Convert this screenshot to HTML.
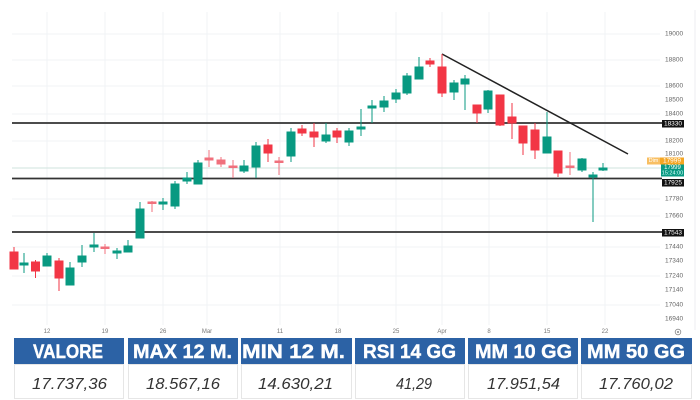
<!DOCTYPE html>
<html><head><meta charset="utf-8"><style>
html,body{margin:0;padding:0;background:#fff;}
svg{display:block;}
text{font-family:"Liberation Sans",Arial,sans-serif;}
</style></head><body>
<svg width="700" height="400" viewBox="0 0 700 400" xmlns="http://www.w3.org/2000/svg">
<rect width="700" height="400" fill="#fff"/>
<!-- grid -->
<g stroke="#f1f3f6" stroke-width="1">
<line x1="47" y1="12" x2="47" y2="325"/><line x1="105" y1="12" x2="105" y2="325"/>
<line x1="163" y1="12" x2="163" y2="325"/><line x1="207" y1="12" x2="207" y2="325"/>
<line x1="280" y1="12" x2="280" y2="325"/><line x1="338" y1="12" x2="338" y2="325"/>
<line x1="396" y1="12" x2="396" y2="325"/><line x1="442" y1="12" x2="442" y2="325"/>
<line x1="489" y1="12" x2="489" y2="325"/><line x1="547" y1="12" x2="547" y2="325"/>
<line x1="605" y1="12" x2="605" y2="325"/>
<line x1="12" y1="34" x2="660" y2="34"/><line x1="12" y1="60" x2="660" y2="60"/>
<line x1="12" y1="86" x2="660" y2="86"/><line x1="12" y1="114" x2="660" y2="114"/>
<line x1="12" y1="141" x2="660" y2="141"/><line x1="12" y1="199" x2="660" y2="199"/>
<line x1="12" y1="216" x2="660" y2="216"/><line x1="12" y1="247" x2="660" y2="247"/>
<line x1="12" y1="276" x2="660" y2="276"/><line x1="12" y1="305" x2="660" y2="305"/>
</g>
<line x1="695" y1="10" x2="695" y2="330" stroke="#eceef2" stroke-width="1"/>
<!-- price line -->
<line x1="12" y1="168" x2="661" y2="168" stroke="#cfe3dd" stroke-width="1"/>
<!-- support/resistance -->
<g stroke="#333" stroke-width="1.8">
<line x1="12" y1="123" x2="662" y2="123"/>
<line x1="12" y1="178.5" x2="662" y2="178.5"/>
<line x1="12" y1="232" x2="662" y2="232"/>
</g>
<line x1="442" y1="54" x2="628" y2="154" stroke="#222" stroke-width="1.5"/>
<!-- candles -->
<g stroke-width="1">
<g fill="#f23645" stroke="#f23645">
<line x1="14" y1="247" x2="14" y2="269"/><rect x="10" y="252" width="8" height="17"/>
<line x1="35.5" y1="260" x2="35.5" y2="278"/><rect x="31.5" y="262" width="8" height="9"/>
<line x1="59" y1="258" x2="59" y2="291"/><rect x="55" y="261" width="8" height="17"/>
<line x1="268" y1="139" x2="268" y2="162"/><rect x="264" y="145" width="8" height="8"/>
<line x1="302" y1="125" x2="302" y2="136"/><rect x="298" y="129" width="8" height="4"/>
<line x1="314" y1="123" x2="314" y2="147"/><rect x="310" y="132" width="8" height="5"/>
<line x1="337" y1="128" x2="337" y2="143"/><rect x="333" y="131" width="8" height="6"/>
<line x1="430" y1="58" x2="430" y2="67"/><rect x="426" y="61" width="8" height="3"/>
<line x1="442" y1="54" x2="442" y2="97"/><rect x="438" y="67" width="8" height="26"/>
<line x1="477" y1="105" x2="477" y2="123"/><rect x="473" y="105" width="8" height="8"/>
<line x1="500" y1="95" x2="500" y2="126"/><rect x="496" y="95" width="8" height="30"/>
<line x1="512" y1="103" x2="512" y2="139"/><rect x="508" y="117" width="8" height="6"/>
<line x1="523" y1="126" x2="523" y2="155"/><rect x="519" y="126" width="8" height="17"/>
<line x1="535" y1="123" x2="535" y2="159"/><rect x="531" y="130" width="8" height="20"/>
<line x1="558" y1="151" x2="558" y2="177"/><rect x="554" y="151" width="8" height="22"/>
</g>
<g fill="#f0707c" stroke="#f0707c">
<line x1="105" y1="244" x2="105" y2="254"/><rect x="101" y="247" width="8" height="1.5"/>
<line x1="152" y1="201" x2="152" y2="212"/><rect x="148" y="202" width="8" height="1.5"/>
<line x1="209" y1="150" x2="209" y2="167"/><rect x="205" y="158" width="8" height="2"/>
<line x1="221" y1="157" x2="221" y2="167"/><rect x="217" y="160" width="8" height="4"/>
<line x1="233" y1="160" x2="233" y2="178"/><rect x="229" y="166" width="8" height="1.5"/>
<line x1="279" y1="157" x2="279" y2="175"/><rect x="275" y="161" width="8" height="1.5"/>
<line x1="570" y1="152" x2="570" y2="175"/><rect x="566" y="166" width="8" height="1.5"/>
</g>
<g fill="#089981" stroke="#089981">
<line x1="24" y1="253" x2="24" y2="273"/><rect x="20" y="263" width="8" height="2"/>
<line x1="47" y1="253" x2="47" y2="266"/><rect x="43" y="256" width="8" height="10"/>
<line x1="70" y1="262" x2="70" y2="285"/><rect x="66" y="268" width="8" height="17"/>
<line x1="82" y1="245" x2="82" y2="267"/><rect x="78" y="256" width="8" height="6"/>
<line x1="94" y1="233" x2="94" y2="252"/><rect x="90" y="245" width="8" height="2"/>
<line x1="117" y1="248" x2="117" y2="259"/><rect x="113" y="251" width="8" height="2"/>
<line x1="128" y1="240" x2="128" y2="252"/><rect x="124" y="246" width="8" height="6"/>
<line x1="140" y1="202" x2="140" y2="238"/><rect x="136" y="209" width="8" height="29"/>
<line x1="163" y1="198" x2="163" y2="210"/><rect x="159" y="202" width="8" height="2"/>
<line x1="175" y1="181" x2="175" y2="209"/><rect x="171" y="184" width="8" height="22"/>
<line x1="187" y1="172" x2="187" y2="184"/><rect x="183" y="178" width="8" height="3"/>
<line x1="198" y1="160" x2="198" y2="184"/><rect x="194" y="163" width="8" height="21"/>
<line x1="244" y1="160" x2="244" y2="173"/><rect x="240" y="166" width="8" height="5"/>
<line x1="256" y1="142" x2="256" y2="178"/><rect x="252" y="146" width="8" height="21"/>
<line x1="291" y1="128" x2="291" y2="162"/><rect x="287" y="132" width="8" height="24"/>
<line x1="326" y1="123" x2="326" y2="143"/><rect x="322" y="135" width="8" height="6"/>
<line x1="349" y1="128" x2="349" y2="146"/><rect x="345" y="131" width="8" height="11"/>
<line x1="361" y1="109" x2="361" y2="136"/><rect x="357" y="127" width="8" height="2"/>
<line x1="372" y1="100" x2="372" y2="123"/><rect x="368" y="106" width="8" height="2"/>
<line x1="384" y1="96" x2="384" y2="112"/><rect x="380" y="101" width="8" height="6"/>
<line x1="396" y1="89" x2="396" y2="103"/><rect x="392" y="93" width="8" height="6"/>
<line x1="407" y1="73" x2="407" y2="95"/><rect x="403" y="76" width="8" height="17"/>
<line x1="419" y1="57" x2="419" y2="79"/><rect x="415" y="67" width="8" height="12"/>
<line x1="454" y1="80" x2="454" y2="100"/><rect x="450" y="83" width="8" height="9"/>
<line x1="465" y1="75" x2="465" y2="110"/><rect x="461" y="79" width="8" height="5"/>
<line x1="488" y1="90" x2="488" y2="113"/><rect x="484" y="91" width="8" height="18"/>
<line x1="547" y1="112" x2="547" y2="153"/><rect x="543" y="137" width="8" height="16"/>
<line x1="582" y1="158" x2="582" y2="172"/><rect x="578" y="159" width="8" height="11"/>
<line x1="593" y1="172" x2="593" y2="222"/><rect x="589" y="175" width="8" height="2"/>
<line x1="603" y1="163" x2="603" y2="171"/><rect x="599" y="168" width="8" height="2"/>
</g>
</g>
<!-- right axis labels -->
<g font-size="6.5" fill="#666" dominant-baseline="central">
<text x="665" y="34">19000</text><text x="665" y="60">18800</text>
<text x="665" y="86">18600</text><text x="665" y="100">18500</text>
<text x="665" y="114">18400</text><text x="665" y="141">18200</text>
<text x="665" y="154">18100</text><text x="665" y="199">17780</text>
<text x="665" y="216">17660</text><text x="665" y="247">17440</text>
<text x="665" y="261">17340</text><text x="665" y="276">17240</text>
<text x="665" y="290">17140</text><text x="665" y="305">17040</text>
<text x="665" y="319">16940</text>
</g>
<!-- price tags -->
<rect x="662" y="120" width="22" height="7.5" fill="#111"/>
<text x="673" y="124" font-size="6.5" fill="#fff" text-anchor="middle" dominant-baseline="central">18330</text>
<rect x="647" y="157.5" width="37" height="7" fill="#f5a623"/>
<rect x="647" y="157.5" width="13" height="7" fill="#f8bf62"/>
<text x="653.5" y="161" font-size="5.5" fill="#fff" text-anchor="middle" dominant-baseline="central">Dim</text>
<text x="672" y="161" font-size="6.5" fill="#fff" text-anchor="middle" dominant-baseline="central">17999</text>
<rect x="661" y="164.5" width="23" height="12" fill="#089981"/>
<text x="672.5" y="168" font-size="6" fill="#fff" text-anchor="middle" dominant-baseline="central">17999</text>
<text x="672.5" y="173.5" font-size="5.5" fill="#dff" text-anchor="middle" dominant-baseline="central">15:24:00</text>
<rect x="662" y="179" width="22" height="7.5" fill="#111"/>
<text x="673" y="183" font-size="6.5" fill="#fff" text-anchor="middle" dominant-baseline="central">17925</text>
<rect x="662" y="229" width="22" height="7.5" fill="#111"/>
<text x="673" y="233" font-size="6.5" fill="#fff" text-anchor="middle" dominant-baseline="central">17543</text>
<!-- date labels -->
<g font-size="6" fill="#777" text-anchor="middle" dominant-baseline="central">
<text x="47" y="332">12</text><text x="105" y="332">19</text><text x="163" y="332">26</text>
<text x="207" y="332">Mar</text><text x="280" y="332">11</text><text x="338" y="332">18</text>
<text x="396" y="332">25</text><text x="442" y="332">Apr</text><text x="489" y="332">8</text>
<text x="547" y="332">15</text><text x="605" y="332">22</text>
</g>
<circle cx="678" cy="332" r="2.8" fill="none" stroke="#888" stroke-width="0.8"/>
<circle cx="678" cy="332" r="1" fill="#888"/>
<!-- table -->
<g fill="#2c62a5">
<rect x="14" y="338" width="110" height="26"/>
<rect x="128" y="338" width="110" height="26"/>
<rect x="241" y="338" width="111" height="26"/>
<rect x="355" y="338" width="110" height="26"/>
<rect x="468" y="338" width="110" height="26"/>
<rect x="581" y="338" width="111" height="26"/>
</g>
<g fill="#fff" stroke="#e6e6e6" stroke-width="1">
<rect x="14.5" y="364.5" width="109" height="34"/>
<rect x="128.5" y="364.5" width="109" height="34"/>
<rect x="241.5" y="364.5" width="110" height="34"/>
<rect x="355.5" y="364.5" width="109" height="34"/>
<rect x="468.5" y="364.5" width="109" height="34"/>
<rect x="581.5" y="364.5" width="110" height="34"/>
</g>
<g font-size="19" font-weight="bold" fill="#fff" stroke="#fff" stroke-width="0.4">
<text x="33" y="358" textLength="70" lengthAdjust="spacingAndGlyphs">VALORE</text>
<text x="133" y="358" textLength="99" lengthAdjust="spacingAndGlyphs">MAX 12 M.</text>
<text x="242" y="358" textLength="103" lengthAdjust="spacingAndGlyphs">MIN 12 M.</text>
<text x="363" y="358" textLength="93" lengthAdjust="spacingAndGlyphs">RSI 14 GG</text>
<text x="475" y="358" textLength="97" lengthAdjust="spacingAndGlyphs">MM 10 GG</text>
<text x="587" y="358" textLength="98" lengthAdjust="spacingAndGlyphs">MM 50 GG</text>
</g>
<g font-size="16" font-style="italic" fill="#333">
<text x="32" y="389" textLength="75" lengthAdjust="spacingAndGlyphs">17.737,36</text>
<text x="146" y="389" textLength="74" lengthAdjust="spacingAndGlyphs">18.567,16</text>
<text x="258" y="389" textLength="75" lengthAdjust="spacingAndGlyphs">14.630,21</text>
<text x="396" y="389" textLength="36" lengthAdjust="spacingAndGlyphs">41,29</text>
<text x="487" y="389" textLength="73" lengthAdjust="spacingAndGlyphs">17.951,54</text>
<text x="599" y="389" textLength="74" lengthAdjust="spacingAndGlyphs">17.760,02</text>
</g>
</svg>
</body></html>
